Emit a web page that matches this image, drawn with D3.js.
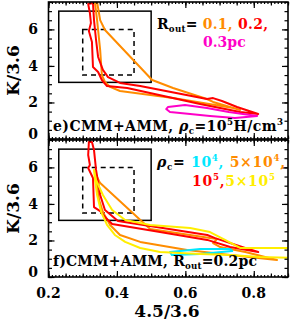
<!DOCTYPE html>
<html><head><meta charset="utf-8">
<script src="https://cdn.jsdelivr.net/npm/d3@7"></script>
<style>body{margin:0;background:#fff}svg{display:block}text{font-family:"DejaVu Serif";font-weight:bold}</style>
</head><body><svg id="c" width="291" height="331"></svg>
<script>
// ---- data (x = 4.5/3.6, y = K/3.6) ----
const xTicks = [0.2, 0.4, 0.6, 0.8];
const yTicks = [0, 2, 4, 6];
const solidBox = [[0.23, 3.1], [0.50, 7.0]];
const dashedBox = [[0.30, 3.5], [0.45, 6.0]];

// panel e) : Rout = 0.1 (orange), 0.2 (red), 0.3 pc (magenta)
const eRout01 = [[0.336,7.44],[0.342,6.51],[0.351,4.87],[0.356,3.50],[0.365,3.12],[0.380,2.85],[0.409,2.63],[0.564,2.24],[0.740,1.70],[0.760,1.59],
  [0.681,2.03],[0.663,2.19],[0.564,2.79],[0.503,3.23],[0.365,5.97],[0.351,6.51],[0.342,7.50]];
const eRout02 = [[0.316,7.39],[0.321,6.90],[0.324,6.35],[0.318,5.91],[0.327,5.31],[0.330,3.94],[0.345,3.67],[0.356,3.23],[0.371,2.90],[0.430,2.79],
  [0.643,1.92],[0.760,1.48],[0.813,1.37],[0.751,1.75],[0.707,2.08],[0.681,2.24],[0.663,2.19],[0.468,2.90],[0.409,3.07],[0.374,3.39],
  [0.359,3.78],[0.345,4.49],[0.339,5.42],[0.333,6.51],[0.330,7.44]];
const eRout03 = [[0.549,1.75],[0.599,1.86],[0.663,1.70],[0.727,1.48],[0.810,1.26],[0.745,1.15],[0.672,1.26],[0.614,1.37],[0.555,1.48],[0.544,1.64]];

// panel f) : rho_c = 1e4 (cyan), 5e4 (orange), 1e5 (red), 5e5 (yellow)
const fRho1e4 = [[0.555,1.37],[0.643,1.53],[0.731,1.53],[0.737,1.42],[0.643,1.26],[0.561,1.20]];
const fRho5e4 = [[0.336,5.75],[0.342,5.04],[0.348,4.21],[0.359,3.56],[0.380,2.85],[0.409,2.30],[0.468,1.92],[0.605,1.48],[0.731,1.20],[0.868,0.93],
  [0.775,1.37],[0.702,1.64],[0.681,1.86],[0.693,2.08],[0.672,2.13],[0.497,2.63],[0.351,5.14],[0.339,5.58]];
const fRho1e5 = [[0.318,7.39],[0.316,6.68],[0.321,6.13],[0.316,5.97],[0.330,5.42],[0.333,3.83],[0.351,3.61],[0.368,3.23],[0.386,2.90],[0.526,2.46],
  [0.664,2.03],[0.731,1.64],[0.813,1.37],[0.775,1.59],[0.687,2.13],[0.664,2.30],[0.403,3.07],[0.365,3.67],[0.351,4.49],[0.339,5.86],[0.333,6.95],[0.327,7.39]];
const fRho5e5 = [[0.333,5.86],[0.339,5.31],[0.359,4.49],[0.386,3.67],[0.424,3.12],[0.497,2.85],[0.614,2.68],[0.672,2.46],[0.716,2.03],[0.760,1.59],[0.92,1.59],
  [0.92,1.04],[0.818,1.09],[0.731,1.20],[0.643,1.26],[0.526,1.37],[0.468,1.59],[0.424,1.92],[0.394,2.30],[0.371,2.85],[0.354,3.56],[0.342,4.49],[0.336,5.31]];

// ---- layout ----
const svg = d3.select("#c");
const x = d3.scaleLinear().domain([0.2, 0.9]).range([48.5, 288]);
const panels = [
  {id:"e", y: d3.scaleLinear().domain([0, 7.5]).range([139, 2]),
   series: [[eRout01,"#ff8c00"],[eRout02,"#ff0000"],[eRout03,"#ff00c8"]]},
  {id:"f", y: d3.scaleLinear().domain([0, 7.5]).range([277, 140]),
   series: [[fRho5e4,"#ff8c00"],[fRho1e4,"#00e8ff"],[fRho1e5,"#ff0000"],[fRho5e5,"#ffee00"]]}
];

panels.forEach((p, pi) => {
  const y = p.y;
  const g = svg.append("g");
  const cid = "clip" + pi;
  svg.append("clipPath").attr("id", cid).append("rect")
    .attr("x", x(0.2)).attr("y", y(7.5)).attr("width", x(0.9)-x(0.2)).attr("height", y(0)-y(7.5));
  [[solidBox, null],[dashedBox, "5,4"]].forEach(([b, dash]) => {
    g.append("rect").attr("x", x(b[0][0])).attr("y", y(b[1][1]))
      .attr("width", x(b[1][0]) - x(b[0][0])).attr("height", y(b[0][1]) - y(b[1][1]))
      .attr("fill", "none").attr("stroke", "#000").attr("stroke-width", 1.5)
      .attr("stroke-dasharray", dash);
  });
  const line = d3.line().x(d => x(d[0])).y(d => y(d[1])).curve(d3.curveLinearClosed);
  const cg = g.append("g").attr("clip-path", `url(#${cid})`);
  p.series.forEach(([data, col]) => {
    cg.append("path").attr("d", line(data)).attr("fill", "none").attr("stroke", col)
      .attr("stroke-width", 2).attr("stroke-linejoin", "round");
  });
  const ax = svg.append("g");
  const mk = (axisFn, scale, vals, len, tf) => {
    const a = axisFn(scale).tickValues(vals).tickSize(len).tickFormat("");
    const gg = ax.append("g").attr("transform", tf).call(a);
    gg.select(".domain").remove();
    gg.selectAll("line").attr("stroke", "#000").attr("stroke-width", 1.2);
  };
  const xMinor = d3.range(0.2, 0.9001, 0.01);
  const xMid = d3.range(0.2, 0.9001, 0.05);
  const yMinor = d3.range(0, 7.5001, 0.5);
  mk(d3.axisTop, x, xMinor, 2, `translate(0,${y(0)})`);
  mk(d3.axisTop, x, xMid, 3.5, `translate(0,${y(0)})`);
  mk(d3.axisTop, x, xTicks, 6, `translate(0,${y(0)})`);
  mk(d3.axisBottom, x, xMinor, 2, `translate(0,${y(7.5)})`);
  mk(d3.axisBottom, x, xMid, 3.5, `translate(0,${y(7.5)})`);
  mk(d3.axisBottom, x, xTicks, 6, `translate(0,${y(7.5)})`);
  mk(d3.axisRight, y, yMinor, 3.5, `translate(${x(0.2)},0)`);
  mk(d3.axisRight, y, yTicks, 6, `translate(${x(0.2)},0)`);
  mk(d3.axisLeft, y, yMinor, 3.5, `translate(${x(0.9)},0)`);
  mk(d3.axisLeft, y, yTicks, 6, `translate(${x(0.9)},0)`);
  ax.append("rect").attr("x", x(0.2)).attr("y", y(7.5)).attr("width", x(0.9)-x(0.2)).attr("height", y(0)-y(7.5))
    .attr("fill", "none").attr("stroke", "#000").attr("stroke-width", 1.6);
  yTicks.forEach(v => {
    svg.append("text").attr("x", 38).attr("y", Math.min(y(v) + 5, y(0) - 0)).attr("text-anchor", "end")
      .attr("font-size", 14).text(v);
  });
  const yc = (y(0) + y(7.5)) / 2;
  svg.append("text").attr("transform", `translate(19,${yc}) rotate(-90)`).attr("text-anchor", "middle")
    .attr("font-size", 17).text("K/3.6");
});

xTicks.forEach(v => svg.append("text").attr("x", x(v)).attr("y", 298).attr("text-anchor", "middle")
  .attr("font-size", 14).text(v.toFixed(1)));
svg.append("text").attr("x", 167).attr("y", 317).attr("text-anchor", "middle").attr("font-size", 17).text("4.5/3.6");

function rich(xp, yp, parts, size, len) {
  const t = svg.append("text").attr("x", xp).attr("y", yp).attr("font-size", size);
  if (len) t.attr("textLength", len).attr("lengthAdjust", "spacing");
  parts.forEach(pt => {
    const s = t.append("tspan").text(pt.t).attr("fill", pt.c || "#000");
    if (pt.sub) s.attr("font-size", size * 0.62).attr("dy", 3);
    if (pt.sup) s.attr("font-size", size * 0.62).attr("dy", -6);
    if (pt.back) s.attr("dy", pt.back);
    if (pt.it) s.attr("font-style", "italic");
  });
  return t;
}
const OR = "#ff8c00", RD = "#ff0000", MG = "#ff00c8", CY = "#00e8ff", YL = "#ffee00";
rich(157, 29, [{t:"R"},{t:"out",sub:1},{t:"= ",back:-3},{t:"0.1, ",c:OR},{t:"0.2,",c:RD}], 14, 111);
rich(203, 47, [{t:"0.3pc",c:MG}], 14);
rich(53, 131, [{t:"e)CMM+AMM, "},{t:"ρ",it:1},{t:"c",sub:1},{t:"=10",back:-3},{t:"5",sup:1},{t:"H/cm",back:6},{t:"3",sup:1}], 14, 230);

rich(157, 167, [{t:"ρ",it:1},{t:"c",sub:1},{t:"= ",back:-3},{t:"10",c:CY},{t:"4",c:CY,sup:1},{t:", ",c:CY,back:6},{t:"5×10",c:OR},{t:"4",c:OR,sup:1},{t:",",c:OR,back:6}], 14, 128);
rich(192, 186, [{t:"10",c:RD},{t:"5",c:RD,sup:1},{t:",",c:RD,back:6},{t:"5×10",c:YL},{t:"5",c:YL,sup:1}], 14, 83);
rich(53, 266, [{t:"f)CMM+AMM,  R"},{t:"out",sub:1},{t:"=0.2pc",back:-3}], 14, 204);
</script></body></html>
